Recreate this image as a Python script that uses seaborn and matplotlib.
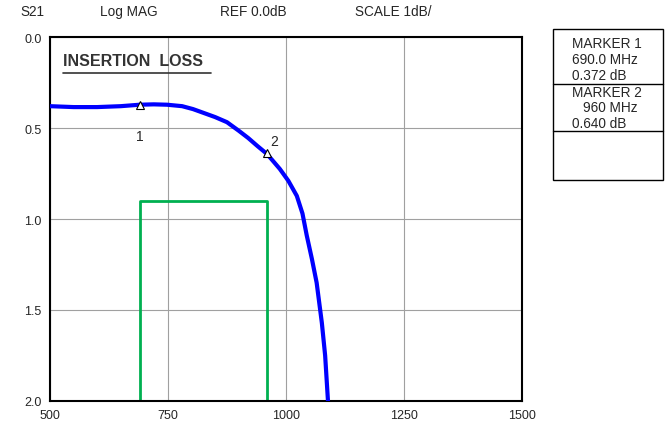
import pandas as pd
import matplotlib
matplotlib.use('Agg')
import matplotlib.pyplot as plt
import seaborn as sns
from matplotlib.patches import Rectangle

# Insertion loss trace (MHz, dB)
freq_mhz = [500, 550, 600, 650, 690, 720, 748, 780, 803, 818, 850, 875, 900,
            920, 940, 960, 987, 1005, 1023, 1035, 1044, 1055, 1065, 1076, 1083, 1089]
loss_db = [0.38, 0.385, 0.385, 0.38, 0.372, 0.37, 0.372, 0.38, 0.396, 0.41,
           0.44, 0.468, 0.515, 0.555, 0.6, 0.643, 0.725, 0.79, 0.873, 0.97,
           1.09, 1.22, 1.35, 1.57, 1.75, 2.0]

# Spec mask (green box)
mask_freq = [690, 690, 960, 960]
mask_loss = [2.0, 0.9, 0.9, 2.0]

# Markers
marker_freq = [690, 960]
marker_loss = [0.372, 0.640]
marker_names = ['1', '2']

x_ticks = [500, 750, 1000, 1250, 1500]
y_ticks = [0.0, 0.5, 1.0, 1.5, 2.0]

trace_df = pd.DataFrame({'freq': freq_mhz, 'loss': loss_db})

sns.set_style('white')
plt.rcParams['font.family'] = ['Liberation Sans', 'DejaVu Sans']

fig = plt.figure(figsize=(6.69, 4.39), dpi=100)
ax = fig.add_axes([0.0747, 0.0843, 0.7055, 0.8291])

sns.lineplot(x='freq', y='loss', data=trace_df, color='#0000ff',
             linewidth=3, ax=ax, zorder=3)
ax.plot(mask_freq, mask_loss, color='#00b050', linewidth=2, zorder=2)
ax.plot(marker_freq, marker_loss, linestyle='none', marker='^',
        markerfacecolor='white', markeredgecolor='black', markersize=6,
        markeredgewidth=0.8, zorder=4)
ax.text(690, 0.545, marker_names[0], ha='center', va='center', fontsize=10)
ax.text(975, 0.57, marker_names[1], ha='center', va='center', fontsize=10)

ax.set_xlim(500, 1500)
ax.set_ylim(2.0, 0.0)
ax.set_xticks(x_ticks)
ax.set_yticks(y_ticks)
ax.set_xticklabels([str(v) for v in x_ticks], fontsize=9)
ax.set_yticklabels(['%.1f' % v for v in y_ticks], fontsize=9)
ax.tick_params(length=0, pad=6)
ax.grid(True, color='#a0a0a0', linewidth=0.8)
ax.set_xlabel('')
ax.set_ylabel('')
for side in ax.spines.values():
    side.set_color('black')
    side.set_linewidth(1.5)

ax.text(0.027, 0.935, 'INSERTION  LOSS', transform=ax.transAxes,
        fontsize=11.5, fontweight='bold', color='#333333', va='center')
# underline
ax.plot([0.027, 0.342], [0.9, 0.9], transform=ax.transAxes,
        color='#333333', linewidth=1.2)

# Header line
hy = 1 - 12 / 439
fig.text(20 / 669, hy, 'S21', fontsize=9.8, va='center')
fig.text(100 / 669, hy, 'Log MAG', fontsize=9.8, va='center')
fig.text(220 / 669, hy, 'REF 0.0dB', fontsize=9.8, va='center')
fig.text(355 / 669, hy, 'SCALE 1dB/', fontsize=9.8, va='center')

# Marker readout box
bx0, bx1 = 553 / 669, 663 / 669
by_top, by_mid1, by_mid2, by_bot = 1 - 30 / 439, 1 - 85 / 439, 1 - 132 / 439, 1 - 181 / 439
fig.patches.append(Rectangle((bx0, by_bot), bx1 - bx0, by_top - by_bot,
                             transform=fig.transFigure, fill=False,
                             edgecolor='black', linewidth=1))
for yy in [by_mid1, by_mid2]:
    fig.add_artist(plt.Line2D([bx0, bx1], [yy, yy], transform=fig.transFigure,
                              color='black', linewidth=1))
fs = 9.8
fig.text(607 / 669, 1 - 44 / 439, 'MARKER 1', fontsize=fs, ha='center', va='center')
fig.text(572 / 669, 1 - 60 / 439, '690.0 MHz', fontsize=fs, va='center')
fig.text(572 / 669, 1 - 76 / 439, '0.372 dB', fontsize=fs, va='center')
fig.text(607 / 669, 1 - 93 / 439, 'MARKER 2', fontsize=fs, ha='center', va='center')
fig.text(583 / 669, 1 - 108 / 439, '960 MHz', fontsize=fs, va='center')
fig.text(572 / 669, 1 - 124 / 439, '0.640 dB', fontsize=fs, va='center')

fig.savefig('out.png', dpi=100)
